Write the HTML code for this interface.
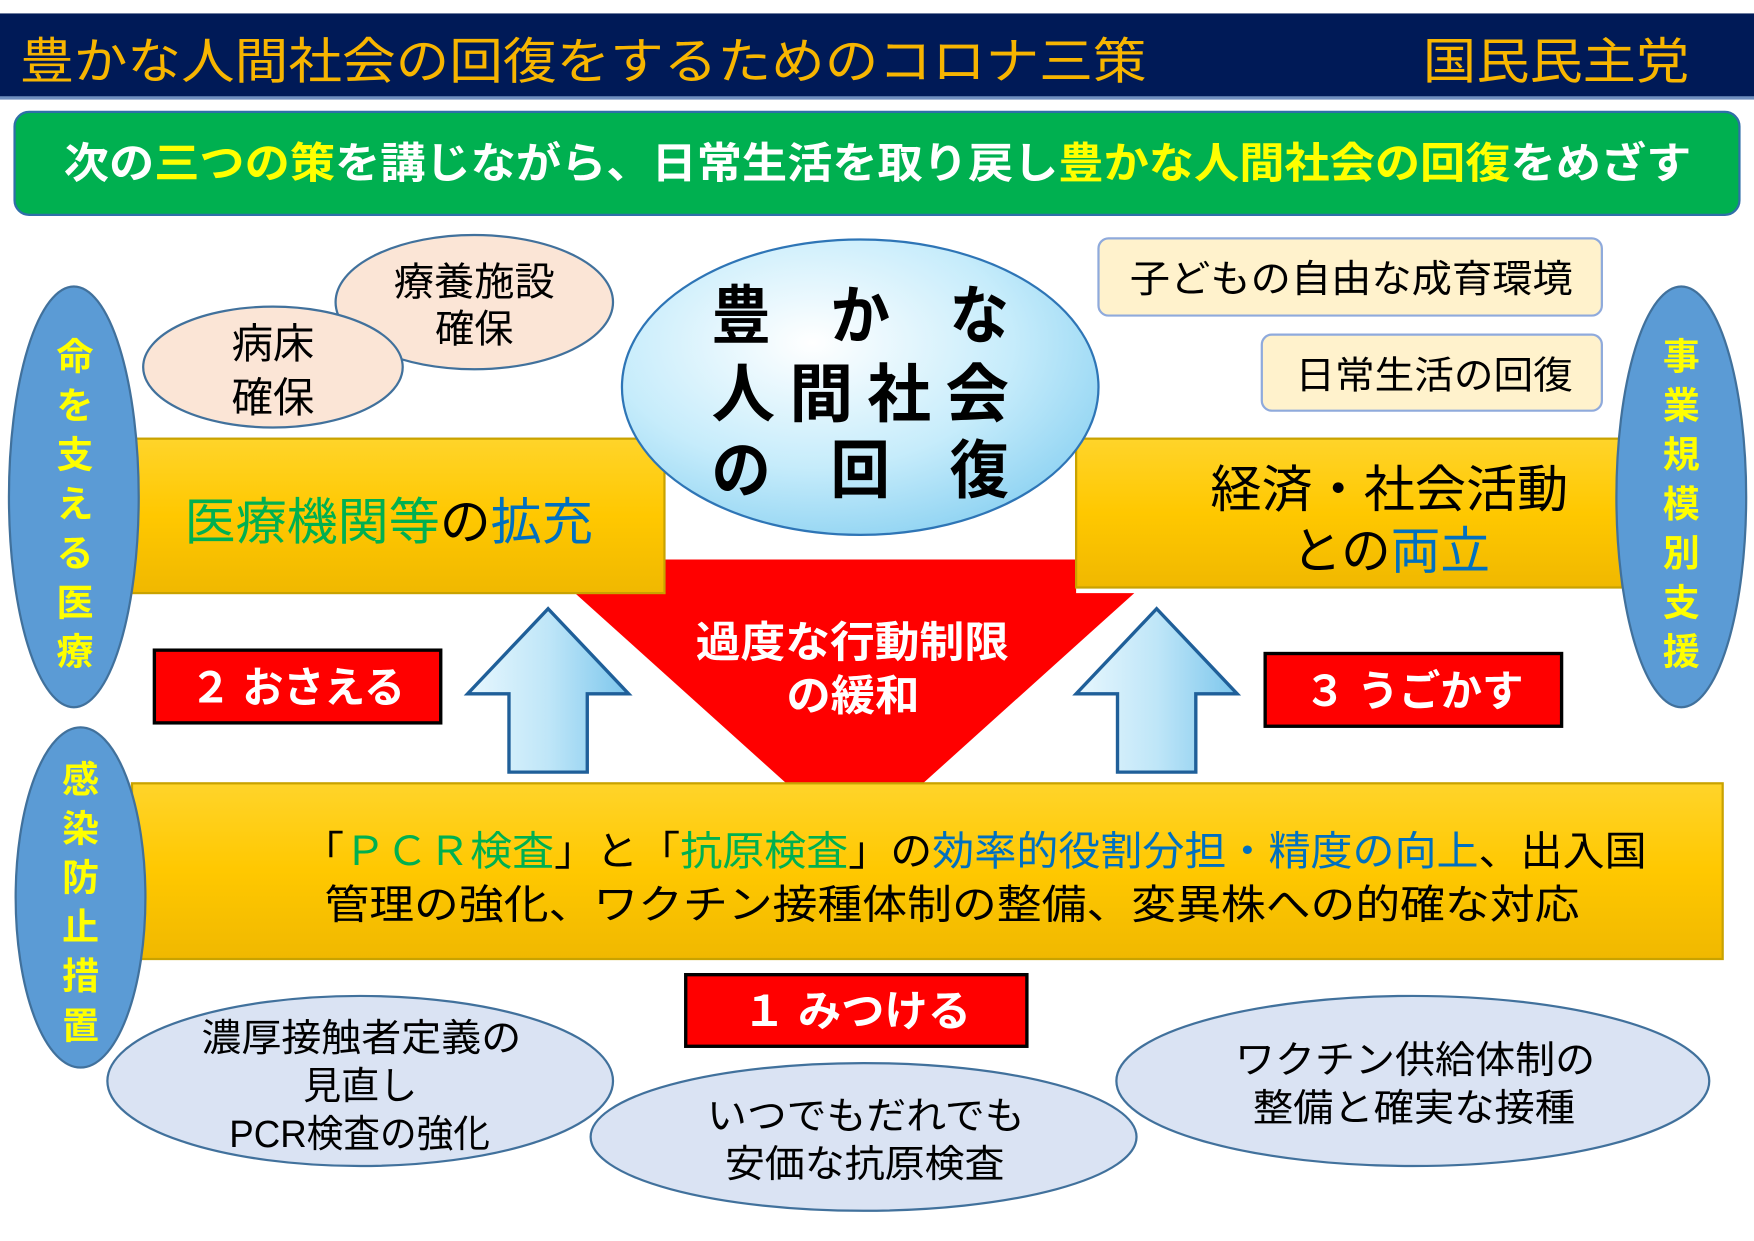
<!DOCTYPE html>
<html><head><meta charset="utf-8"><style>
html,body{margin:0;padding:0;background:#fff;}
svg{display:block;}
text{font-family:"Liberation Sans","Noto Sans CJK JP",sans-serif;}
</style></head><body>
<svg width="1754" height="1241" viewBox="0 0 1568 1109" preserveAspectRatio="none" xmlns="http://www.w3.org/2000/svg">
<defs>
<linearGradient id="yb" x1="0" y1="0" x2="0" y2="1"><stop offset="0" stop-color="#ffd42a"/><stop offset="0.5" stop-color="#ffc800"/><stop offset="1" stop-color="#f0b800"/></linearGradient>
<radialGradient id="cb" cx="0.4" cy="0.35" r="0.7"><stop offset="0" stop-color="#ffffff"/><stop offset="0.6" stop-color="#c6ecfb"/><stop offset="1" stop-color="#8fd3f2"/></radialGradient>
<linearGradient id="ar" x1="0" y1="0" x2="1" y2="0"><stop offset="0" stop-color="#e8f7fe"/><stop offset="0.5" stop-color="#bfe6f8"/><stop offset="1" stop-color="#7cc6ec"/></linearGradient>
</defs>
<!-- title -->
<rect x="0" y="12" width="1568" height="76" fill="#001a57"/>
<rect x="0" y="86" width="1568" height="3" fill="#6f8fbf"/>
<text x="18" y="70" font-size="44" fill="#f7b500" textLength="1007" lengthAdjust="spacingAndGlyphs">豊かな人間社会の回復をするためのコロナ三策</text>
<text x="1272" y="70" font-size="44" fill="#f7b500" textLength="238" lengthAdjust="spacingAndGlyphs">国民民主党</text>
<!-- green -->
<rect x="13" y="100" width="1542" height="92" rx="13" fill="#00b050" stroke="#2f6fa8" stroke-width="2"/>
<text x="57" y="159" font-size="38" font-weight="bold" fill="#fff" textLength="1455" lengthAdjust="spacingAndGlyphs">次の<tspan fill="#ffff00">三つの策</tspan>を講じながら、日常生活を取り戻し<tspan fill="#ffff00">豊かな人間社会の回復</tspan>をめざす</text>
<!-- pink ellipses -->
<ellipse cx="424" cy="270" rx="124" ry="60" fill="#fbe5d6" stroke="#41719c" stroke-width="2"/>
<text x="352" y="264" font-size="35" textLength="144" lengthAdjust="spacingAndGlyphs">療養施設</text>
<text x="424" y="306" font-size="35" text-anchor="middle">確保</text>
<ellipse cx="244" cy="328" rx="116" ry="54" fill="#fbe5d6" stroke="#41719c" stroke-width="2"/>
<text x="244" y="320" font-size="37" text-anchor="middle">病床</text>
<text x="244" y="368" font-size="37" text-anchor="middle">確保</text>
<!-- red shape -->
<rect x="594" y="500" width="368" height="32" fill="#ff0000"/>
<polygon points="514,530 1014,530 764,755" fill="#ff0000"/>
<!-- yellow bars -->
<rect x="118" y="392" width="476" height="138" fill="url(#yb)" stroke="#c9a200" stroke-width="2"/>
<text x="165" y="482" font-size="45" textLength="365" lengthAdjust="spacingAndGlyphs"><tspan fill="#00b050">医療機関等</tspan>の<tspan fill="#0070c0">拡充</tspan></text>
<rect x="962" y="392" width="488" height="133" fill="url(#yb)" stroke="#c9a200" stroke-width="2"/>
<text x="1082" y="453" font-size="45" textLength="320" lengthAdjust="spacingAndGlyphs">経済・社会活動</text>
<text x="1155" y="508" font-size="45" textLength="177" lengthAdjust="spacingAndGlyphs">との<tspan fill="#0070c0">両立</tspan></text>
<!-- center ellipse -->
<ellipse cx="769" cy="346" rx="213" ry="132" fill="url(#cb)" stroke="#2e75b6" stroke-width="2"/>
<text x="636" y="302" font-size="57" font-weight="bold" textLength="266" lengthAdjust="spacingAndGlyphs">豊　か　な</text>
<text x="636" y="372" font-size="57" font-weight="bold" textLength="266" lengthAdjust="spacing">人間社会</text>
<text x="636" y="440" font-size="57" font-weight="bold" textLength="266" lengthAdjust="spacingAndGlyphs">の　回　復</text>
<text x="622" y="587" font-size="38" font-weight="bold" fill="#fff" textLength="280" lengthAdjust="spacingAndGlyphs">過度な行動制限</text>
<text x="703" y="635" font-size="38" font-weight="bold" fill="#fff" textLength="119" lengthAdjust="spacingAndGlyphs">の緩和</text>
<!-- arrows -->
<polygon points="490,544 562,620 525,620 525,690 455,690 455,620 418,620" fill="url(#ar)" stroke="#1f5f99" stroke-width="3"/>
<polygon points="1034,544 1106,620 1069,620 1069,690 999,690 999,620 962,620" fill="url(#ar)" stroke="#1f5f99" stroke-width="3"/>
<!-- red labels -->
<rect x="138" y="581" width="256" height="65" fill="#ff0000" stroke="#000" stroke-width="3"/>
<text x="170" y="628" font-size="38" font-weight="bold" fill="#fff" textLength="192" lengthAdjust="spacingAndGlyphs">２ おさえる</text>
<rect x="1131" y="584" width="265" height="65" fill="#ff0000" stroke="#000" stroke-width="3"/>
<text x="1166" y="631" font-size="38" font-weight="bold" fill="#fff" textLength="196" lengthAdjust="spacingAndGlyphs">３ うごかす</text>
<!-- bottom bar -->
<rect x="118" y="700" width="1422" height="157" fill="url(#yb)" stroke="#c9a200" stroke-width="2"/>
<text x="270" y="773" font-size="36" textLength="1202" lengthAdjust="spacingAndGlyphs">「<tspan fill="#00b050">ＰＣＲ検査</tspan>」と「<tspan fill="#00b050">抗原検査</tspan>」の<tspan fill="#0070c0">効率的役割分担・精度の向上</tspan>、出入国</text>
<text x="290" y="821" font-size="36" textLength="1122" lengthAdjust="spacingAndGlyphs">管理の強化、ワクチン接種体制の整備、変異株への的確な対応</text>
<!-- blue side ovals -->
<ellipse cx="66" cy="444" rx="58" ry="188" fill="#5b9bd5" stroke="#41719c" stroke-width="2"/>
<text font-size="33" font-weight="bold" fill="#ffff00" text-anchor="middle"><tspan x="67" y="330">命</tspan><tspan x="67" y="374">を</tspan><tspan x="67" y="418">支</tspan><tspan x="67" y="462">え</tspan><tspan x="67" y="506">る</tspan><tspan x="67" y="550">医</tspan><tspan x="67" y="594">療</tspan></text>
<ellipse cx="72" cy="802" rx="58" ry="152" fill="#5b9bd5" stroke="#41719c" stroke-width="2"/>
<text font-size="33" font-weight="bold" fill="#ffff00" text-anchor="middle"><tspan x="72" y="708">感</tspan><tspan x="72" y="752">染</tspan><tspan x="72" y="796">防</tspan><tspan x="72" y="840">止</tspan><tspan x="72" y="884">措</tspan><tspan x="72" y="928">置</tspan></text>
<ellipse cx="1503" cy="444" rx="58" ry="188" fill="#5b9bd5" stroke="#41719c" stroke-width="2"/>
<text font-size="33" font-weight="bold" fill="#ffff00" text-anchor="middle"><tspan x="1503" y="330">事</tspan><tspan x="1503" y="374">業</tspan><tspan x="1503" y="418">規</tspan><tspan x="1503" y="462">模</tspan><tspan x="1503" y="506">別</tspan><tspan x="1503" y="550">支</tspan><tspan x="1503" y="594">援</tspan></text>
<!-- right boxes -->
<rect x="982" y="213" width="450" height="69" rx="9" fill="#fff2cc" stroke="#8faadc" stroke-width="2"/>
<text x="1010" y="261" font-size="34" textLength="396" lengthAdjust="spacingAndGlyphs">子どもの自由な成育環境</text>
<rect x="1128" y="299" width="304" height="68" rx="9" fill="#fff2cc" stroke="#8faadc" stroke-width="2"/>
<text x="1158" y="347" font-size="34" textLength="248" lengthAdjust="spacingAndGlyphs">日常生活の回復</text>
<!-- 1 label -->
<rect x="613" y="871" width="305" height="64" fill="#ff0000" stroke="#000" stroke-width="3"/>
<text x="664" y="917" font-size="38" font-weight="bold" fill="#fff" textLength="204" lengthAdjust="spacingAndGlyphs">１ みつける</text>
<!-- bottom ellipses -->
<ellipse cx="322" cy="966" rx="226" ry="76" fill="#dae3f3" stroke="#41719c" stroke-width="2"/>
<text x="180" y="939" font-size="34" textLength="286" lengthAdjust="spacingAndGlyphs">濃厚接触者定義の</text>
<text x="322" y="982" font-size="34" text-anchor="middle">見直し</text>
<text x="205" y="1025" font-size="34" textLength="233" lengthAdjust="spacingAndGlyphs">PCR検査の強化</text>
<ellipse cx="772" cy="1016" rx="244" ry="66" fill="#dae3f3" stroke="#41719c" stroke-width="2"/>
<text x="632" y="1009" font-size="34" textLength="284" lengthAdjust="spacingAndGlyphs">いつでもだれでも</text>
<text x="648" y="1052" font-size="34" textLength="250" lengthAdjust="spacingAndGlyphs">安価な抗原検査</text>
<ellipse cx="1263" cy="966" rx="265" ry="76" fill="#dae3f3" stroke="#41719c" stroke-width="2"/>
<text x="1104" y="959" font-size="34" textLength="322" lengthAdjust="spacingAndGlyphs">ワクチン供給体制の</text>
<text x="1120" y="1002" font-size="34" textLength="288" lengthAdjust="spacingAndGlyphs">整備と確実な接種</text>
</svg>
</body></html>
